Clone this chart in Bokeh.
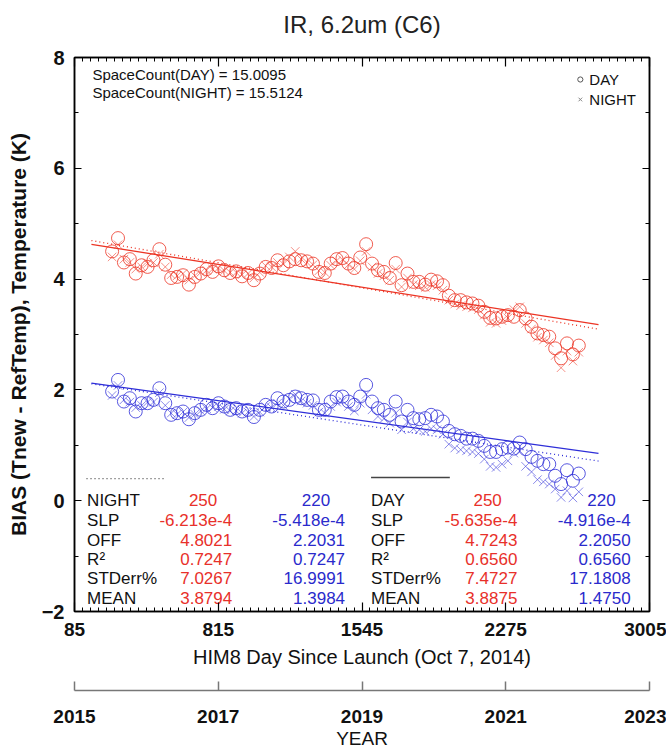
import numpy as np
from bokeh.plotting import figure
from bokeh.models import (ColumnDataSource, Range1d, LinearAxis, FixedTicker,
                          CustomJSTickFormatter, Legend, LegendItem)
from bokeh.layouts import column
from bokeh.embed import file_html
from bokeh.resources import INLINE
from bokeh.core.properties import value

# ---------------- data ----------------
days = [276, 306, 336, 366, 396, 426, 456, 486, 516, 546,
        576, 606, 636, 666, 696, 726, 756, 786, 816, 846,
        876, 906, 936, 966, 996, 1026, 1056, 1086, 1116, 1146,
        1176, 1206, 1236, 1266, 1296, 1326, 1356, 1386, 1416, 1446,
        1476, 1506, 1536, 1566, 1596, 1626, 1656, 1686, 1716, 1746,
        1776, 1806, 1836, 1866, 1896, 1926, 1956, 1986, 2016, 2046,
        2076, 2106, 2136, 2166, 2196, 2226, 2256, 2286, 2316, 2346,
        2376, 2406, 2436, 2466, 2496, 2526, 2556, 2586, 2616, 2646]

red_day = [4.50, 4.74, 4.30, 4.36, 4.10, 4.25, 4.22, 4.34, 4.54, 4.26,
           4.02, 4.04, 4.07, 3.90, 4.04, 4.10, 4.18, 4.13, 4.23, 4.16,
           4.11, 4.14, 4.05, 4.11, 3.98, 4.10, 4.22, 4.20, 4.34, 4.25,
           4.32, 4.36, 4.34, 4.32, 4.28, 4.13, 4.11, 4.28, 4.36, 4.38,
           4.28, 4.20, 4.39, 4.63, 4.28, 4.16, 4.13, 4.02, 4.29, 3.89,
           4.10, 3.95, 3.95, 3.90, 3.99, 3.96, 3.89, 3.70, 3.62, 3.62,
           3.58, 3.56, 3.52, 3.41, 3.30, 3.29, 3.32, 3.35, 3.32, 3.44,
           3.29, 3.14, 3.02, 2.99, 2.96, 2.75, 2.57, 2.84, 2.64, 2.80]

red_night = [4.40, 4.62, 4.36, 4.30, 4.18, 4.22, 4.28, 4.30, 4.45, 4.22,
             4.08, 4.06, 4.10, 3.98, 4.06, 4.12, 4.16, 4.18, 4.20, 4.15,
             4.12, 4.12, 4.08, 4.10, 4.02, 4.12, 4.24, 4.22, 4.30, 4.27,
             4.40, 4.50, 4.36, 4.30, 4.26, 4.15, 4.12, 4.25, 4.33, 4.35,
             4.26, 4.18, 4.33, 4.50, 4.22, 4.10, 4.06, 3.98, 4.18, 3.86,
             4.02, 3.90, 3.88, 3.85, 3.90, 3.88, 3.80, 3.62, 3.55, 3.52,
             3.50, 3.48, 3.45, 3.35, 3.22, 3.20, 3.25, 3.30, 3.45, 3.50,
             3.20, 3.10, 2.95, 2.90, 2.85, 2.62, 2.40, 2.70, 2.52, 2.68]

blue_day = [1.97, 2.18, 1.79, 1.85, 1.61, 1.76, 1.76, 1.82, 2.03, 1.76,
            1.55, 1.58, 1.61, 1.47, 1.58, 1.64, 1.73, 1.67, 1.76, 1.70,
            1.64, 1.67, 1.61, 1.64, 1.51, 1.64, 1.73, 1.70, 1.85, 1.79,
            1.82, 1.88, 1.85, 1.82, 1.81, 1.64, 1.64, 1.79, 1.87, 1.88,
            1.79, 1.73, 1.88, 2.09, 1.79, 1.67, 1.64, 1.55, 1.79, 1.43,
            1.64, 1.49, 1.47, 1.49, 1.55, 1.52, 1.43, 1.26, 1.20, 1.17,
            1.12, 1.12, 1.08, 0.99, 0.88, 0.88, 0.93, 0.96, 0.94, 1.05,
            0.93, 0.79, 0.72, 0.66, 0.66, 0.45, 0.30, 0.55, 0.36, 0.49]

blue_night = [1.90, 2.08, 1.82, 1.78, 1.68, 1.72, 1.78, 1.78, 1.95, 1.72,
              1.58, 1.56, 1.60, 1.50, 1.56, 1.62, 1.66, 1.68, 1.70, 1.65,
              1.62, 1.62, 1.58, 1.60, 1.52, 1.60, 1.70, 1.68, 1.76, 1.72,
              1.84, 1.92, 1.80, 1.76, 1.72, 1.60, 1.58, 1.70, 1.78, 1.80,
              1.70, 1.62, 1.76, 1.92, 1.64, 1.52, 1.48, 1.40, 1.58, 1.28,
              1.42, 1.30, 1.28, 1.25, 1.30, 1.28, 1.20, 1.02, 0.95, 0.92,
              0.90, 0.88, 0.85, 0.75, 0.62, 0.60, 0.66, 0.72, 0.86, 0.90,
              0.62, 0.52, 0.38, 0.34, 0.30, 0.21, 0.06, 0.18, 0.05, 0.16]

# regression statistics: [red (250), blue (220)]
night_n = [250, 220]
night_slp = [-6.213e-4, -5.418e-4]
night_off = [4.8021, 2.2031]
night_r2 = [0.7247, 0.7247]
night_stderr = [7.0267, 16.9991]
night_mean = [3.8794, 1.3984]

day_n = [250, 220]
day_slp = [-5.635e-4, -4.916e-4]
day_off = [4.7243, 2.2050]
day_r2 = [0.6560, 0.6560]
day_stderr = [7.4727, 17.1808]
day_mean = [3.8875, 1.4750]

fit_days = [171, 2746]

space_count_day = 15.0095
space_count_night = 15.5124

x_ticks = [85, 815, 1545, 2275, 3005]
y_ticks = [-2, 0, 2, 4, 6, 8]
y_minor = [-1, 1, 3, 5, 7]
year_ticks = [2015, 2017, 2019, 2021, 2023]

row_labels = ["SLP", "OFF", "R\u00b2", "STDerr%", "MEAN"]
title_text = "IR, 6.2um (C6)"

# ---------------- styling ----------------
FONT = "Liberation Sans"
RED = "#ec3424"
BLUE = "#2e2ed8"
RED_TXT = "#e8302a"
BLUE_TXT = "#2a2acc"

x_minor = []
for a, b in zip(x_ticks[:-1], x_ticks[1:]):
    step = (b - a) / 18.0
    x_minor += [a + step * k for k in range(1, 18)]

p = figure(width=666, height=676, output_backend="svg", toolbar_location=None,
           x_range=Range1d(85, 3005), y_range=Range1d(-2, 8),
           min_border_left=74, min_border_right=17, min_border_top=57,
           min_border_bottom=65)
p.background_fill_color = "white"
p.border_fill_color = "white"
p.outline_line_color = "black"
p.outline_line_width = 1.5
p.xgrid.visible = False
p.ygrid.visible = False
p.title.visible = False

def style_x(ax, labels=True):
    ax.ticker = FixedTicker(ticks=x_ticks, minor_ticks=x_minor)
    ax.major_tick_in = 9
    ax.major_tick_out = 0
    ax.minor_tick_in = 4
    ax.minor_tick_out = 0
    ax.axis_line_width = 1.5
    ax.major_tick_line_width = 1.2
    ax.minor_tick_line_width = 1
    if not labels:
        ax.formatter = CustomJSTickFormatter(code="return ''")
        ax.major_label_standoff = 0

def style_y(ax, labels=True):
    ax.ticker = FixedTicker(ticks=y_ticks, minor_ticks=y_minor)
    ax.major_tick_in = 7
    ax.major_tick_out = 0
    ax.minor_tick_in = 4
    ax.minor_tick_out = 0
    ax.axis_line_width = 1.5
    ax.major_tick_line_width = 1.2
    ax.minor_tick_line_width = 1
    if not labels:
        ax.formatter = CustomJSTickFormatter(code="return ''")
        ax.major_label_standoff = 0

xa = p.xaxis[0]
style_x(xa)
xa.major_label_text_font = FONT
xa.major_label_text_font_size = "19px"
xa.major_label_text_font_style = "bold"
xa.major_label_text_color = "#111111"
xa.major_label_standoff = 11
xa.axis_label = "HIM8 Day Since Launch (Oct 7, 2014)"
xa.axis_label_text_font = FONT
xa.axis_label_text_font_size = "20px"
xa.axis_label_text_font_style = "normal"
xa.axis_label_text_color = "#111111"
xa.axis_label_standoff = 7

ya = p.yaxis[0]
style_y(ya)
ya.major_label_text_font = FONT
ya.major_label_text_font_size = "20px"
ya.major_label_text_font_style = "bold"
ya.major_label_text_color = "#111111"
ya.major_label_standoff = 10
ya.axis_label = "BIAS (Tnew - RefTemp), Temperature (K)"
ya.axis_label_text_font = FONT
ya.axis_label_text_font_size = "21px"
ya.axis_label_text_font_style = "bold"
ya.axis_label_text_color = "#111111"
ya.axis_label_standoff = 9

# top axis: ticks only, carries the chart title as its label
top_ax = LinearAxis()
style_x(top_ax, labels=False)
top_ax.axis_label = title_text
top_ax.axis_label_text_font = FONT
top_ax.axis_label_text_font_size = "24px"
top_ax.axis_label_text_font_style = "normal"
top_ax.axis_label_text_color = "#222222"
top_ax.axis_label_standoff = 20
p.add_layout(top_ax, "above")
right_ax = LinearAxis()
style_y(right_ax, labels=False)
p.add_layout(right_ax, "right")

# ---------------- data glyphs ----------------
src = ColumnDataSource(dict(day=days, red_day=red_day, red_night=red_night,
                            blue_day=blue_day, blue_night=blue_night))
for col, color in (("red_night", RED), ("blue_night", BLUE)):
    p.scatter("day", col, source=src, marker="x", size=12, line_color=color,
              line_alpha=0.55, line_width=1)
for col, color in (("red_day", RED), ("blue_day", BLUE)):
    p.scatter("day", col, source=src, marker="circle", size=13, fill_color=None,
              line_color=color, line_alpha=0.8, line_width=1)

for i, color in enumerate((RED, BLUE)):
    yd = [day_off[i] + day_slp[i] * d for d in fit_days]
    yn = [night_off[i] + night_slp[i] * d for d in fit_days]
    p.line(fit_days, yd, line_color=color, line_width=1.3)
    p.line(fit_days, yn, line_color=color, line_width=1.3, line_dash="1 3")

# legend with neutral markers (off-range points, only the legend shows them)
leg_src = ColumnDataSource(dict(x=[np.nan], y=[np.nan]))
r_leg_day = p.scatter("x", "y", source=leg_src, marker="circle", size=12,
                      fill_color=None, line_color="#555555", line_width=1)
r_leg_night = p.scatter("x", "y", source=leg_src, marker="x", size=12,
                        line_color="#888888", line_width=1)
legend = Legend(items=[LegendItem(label="DAY", renderers=[r_leg_day], index=0),
                       LegendItem(label="NIGHT", renderers=[r_leg_night], index=0)],
                location="top_right", border_line_color=None,
                background_fill_alpha=0, margin=13, padding=0, spacing=2,
                glyph_width=13, glyph_height=18, label_height=18,
                label_standoff=3, label_text_font=FONT,
                label_text_font_size="15px", label_text_color="#111111")
legend.margin = 13
p.add_layout(legend)

# space count annotation
sc_src = ColumnDataSource(dict(
    x=[176, 176], y=[7.69, 7.37],
    t=["SpaceCount(DAY) = %.4f" % space_count_day,
       "SpaceCount(NIGHT) = %.4f" % space_count_night]))
p.text("x", "y", text="t", source=sc_src, text_font=value(FONT),
       text_font_size="15px", text_baseline="middle", text_align="left",
       text_color="#111111")

# ---------------- statistics tables ----------------
def fmt_slope(v):
    return ("%.3e" % v).replace("e-0", "e-").replace("e+0", "e+")

row_y = [0.01, -0.35, -0.71, -1.055, -1.40, -1.76]

def table(name, n, slp, off, r2, se, mean, x_lab, x_red, x_blue, x_red_h, x_blue_h):
    labels = [name] + row_labels
    p.text(x=[x_lab] * 6, y=row_y, text=labels, text_font=value(FONT),
           text_font_size="17px", text_baseline="middle", text_align="left",
           text_color="#111111")
    for i, (xc, xh, color) in enumerate(((x_red, x_red_h, RED_TXT),
                                         (x_blue, x_blue_h, BLUE_TXT))):
        vals = [fmt_slope(slp[i]), "%.4f" % off[i], "%.4f" % r2[i],
                "%.4f" % se[i], "%.4f" % mean[i]]
        p.text(x=[xh], y=row_y[:1], text=[str(n[i])], text_font=value(FONT),
               text_font_size="17px", text_baseline="middle", text_align="right",
               text_color=color)
        p.text(x=[xc] * 5, y=row_y[1:], text=vals, text_font=value(FONT),
               text_font_size="17px", text_baseline="middle", text_align="right",
               text_color=color)

table("NIGHT", night_n, night_slp, night_off, night_r2, night_stderr, night_mean,
      149, 886, 1459, 810, 1383)
table("DAY", day_n, day_slp, day_off, day_r2, day_stderr, day_mean,
      1591, 2334, 2909, 2255, 2833)

# line-style samples
p.line([146, 551], [0.40, 0.40], line_color="#444444", line_width=1.3, line_dash="1 3")
p.line([1591, 1991], [0.42, 0.42], line_color="#444444", line_width=1.5)

# ---------------- year axis ----------------
p2 = figure(width=666, height=75, output_backend="svg", toolbar_location=None,
            x_range=Range1d(2015, 2023), y_range=Range1d(0, 1),
            y_axis_location=None, min_border_left=74, min_border_right=17,
            min_border_top=13, min_border_bottom=61)
p2.outline_line_color = None
p2.xgrid.visible = False
p2.ygrid.visible = False
p2.background_fill_color = "white"
p2.border_fill_color = "white"
ax2 = p2.xaxis[0]
ax2.ticker = FixedTicker(ticks=year_ticks, minor_ticks=[])
ax2.major_tick_in = 9
ax2.major_tick_out = 0
ax2.minor_tick_in = 0
ax2.minor_tick_out = 0
ax2.axis_line_color = "#777777"
ax2.axis_line_width = 1.5
ax2.major_tick_line_color = "#777777"
ax2.major_tick_line_width = 1.5
ax2.major_label_text_font = FONT
ax2.major_label_text_font_size = "19px"
ax2.major_label_text_font_style = "bold"
ax2.major_label_text_color = "#111111"
ax2.major_label_standoff = 19
ax2.axis_label = "YEAR"
ax2.axis_label_text_font = FONT
ax2.axis_label_text_font_size = "19px"
ax2.axis_label_text_font_style = "normal"
ax2.axis_label_text_color = "#111111"
ax2.axis_label_standoff = 2

layout = column(p, p2, spacing=0)
open("out.html", "w").write(file_html(layout, INLINE))
